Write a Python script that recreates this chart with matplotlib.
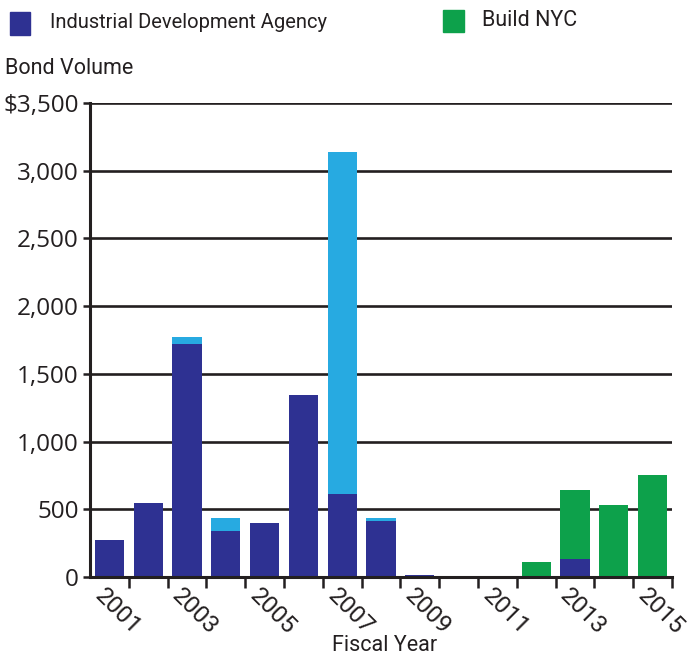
import matplotlib
matplotlib.use("Agg")
import matplotlib.pyplot as plt
from matplotlib.patches import Rectangle
import numpy as np

# values (millions of dollars)
years = [2001, 2002, 2003, 2004, 2005, 2006, 2007, 2008,
         2009, 2010, 2011, 2012, 2013, 2014, 2015]
ida_main = [270, 545, 1720, 340, 400, 1345, 612, 415, 12, 0, 10, 0, 135, 0, 0]
ida_other = [0, 0, 50, 98, 0, 0, 2528, 18, 0, 0, 0, 0, 0, 0, 0]
build_nyc = [0, 0, 0, 0, 0, 0, 0, 0, 0, 0, 0, 108, 510, 532, 755]
y_ticks = [0, 500, 1000, 1500, 2000, 2500, 3000, 3500]
y_labels = ["0", "500", "1,000", "1,500", "2,000", "2,500", "3,000", "$3,500"]

DARK = "#2E3192"
LIGHT = "#27AAE1"
GREEN = "#0DA14B"
INK = "#231F20"

plt.rcParams['font.family'] = ['Open Sans', 'DejaVu Sans']
ROB = ['Roboto', 'DejaVu Sans']

fig = plt.figure(figsize=(6.9, 6.55), dpi=100)
ax = fig.add_axes([0.1304, 0.119, 0.8436, 0.724])

x = np.array(years)
w = 0.75
ax.bar(x, ida_main, width=w, color=DARK, zorder=3)
ax.bar(x, ida_other, width=w, bottom=ida_main, color=LIGHT, zorder=3)
bottom2 = np.array(ida_main) + np.array(ida_other)
ax.bar(x, build_nyc, width=w, bottom=bottom2, color=GREEN, zorder=3)

ax.set_xlim(years[0] - 0.5, years[-1] + 0.5)
ax.set_ylim(0, 3500)

# horizontal gridlines
for t in y_ticks[1:]:
    ax.axhline(t, color=INK, lw=1.9, zorder=1)

ax.set_yticks(y_ticks)
ax.set_yticklabels(y_labels, fontsize=17.5, color=INK)
ax.tick_params(axis='y', length=5, width=1.8, color=INK, pad=3)

# ticks between bars, labels on odd years
ax.set_xticks([y + 0.5 for y in years])
ax.set_xticklabels([])
ax.tick_params(axis='x', length=8, width=1.8, color=INK, direction='out')
for yr in years[::2]:
    ax.text(yr - 0.08, -55, str(yr), rotation=-45, rotation_mode='anchor',
            ha='left', va='top', fontsize=17.5, color=INK, family=ROB)

for s in ['top', 'right']:
    ax.spines[s].set_visible(False)
for s in ['left', 'bottom']:
    ax.spines[s].set_color(INK)
    ax.spines[s].set_linewidth(2.2)
    ax.spines[s].set_zorder(4)

fig.text(0.558, 0.015, "Fiscal Year", ha='center', va='center', fontsize=15.5,
         color=INK, family=ROB)
fig.text(0.007, 0.896, "Bond Volume", ha='left', va='center', fontsize=15.5,
         color=INK, family=ROB)

# legend
fig.patches.append(Rectangle((0.0145, 0.947), 0.029, 0.034, color=DARK,
                             transform=fig.transFigure, figure=fig))
fig.text(0.072, 0.965, "Industrial Development Agency", ha='left', va='center',
         fontsize=14.5, color=INK, family=ROB)
fig.patches.append(Rectangle((0.642, 0.951), 0.030, 0.034, color=GREEN,
                             transform=fig.transFigure, figure=fig))
fig.text(0.699, 0.969, "Build NYC", ha='left', va='center',
         fontsize=15.5, color=INK, family=ROB)

fig.savefig("out.png", dpi=100)
